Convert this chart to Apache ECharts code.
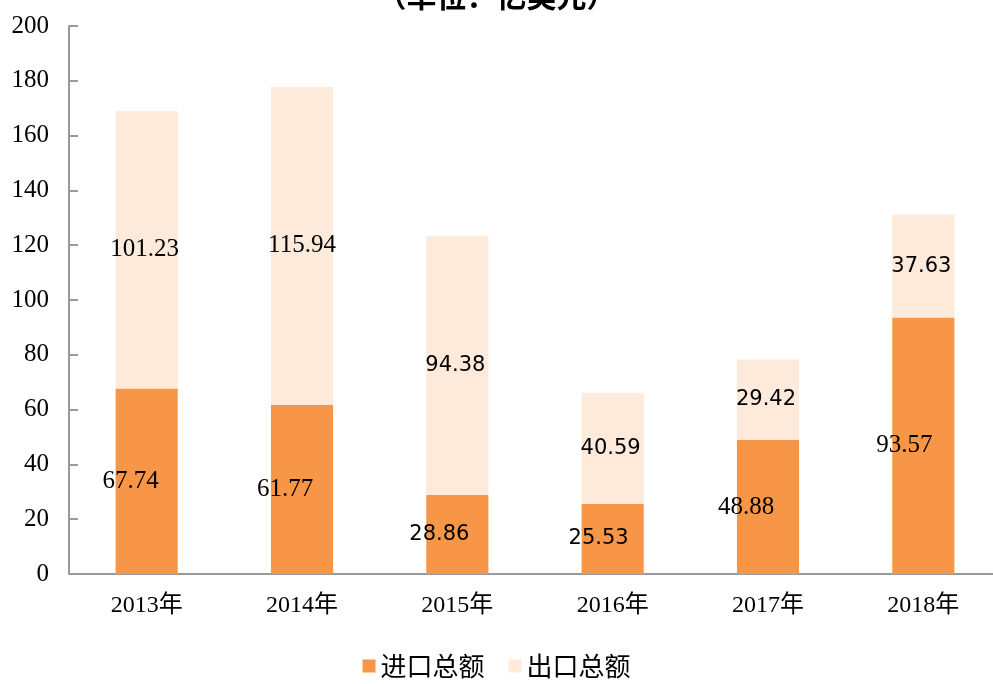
<!DOCTYPE html>
<html>
<head>
<meta charset="utf-8">
<script src="https://cdn.jsdelivr.net/npm/echarts@6/dist/echarts.min.js"></script>
<style>
html,body{margin:0;padding:0;background:#fff;}
#container{width:993px;height:684px;}
</style>
</head>
<body>
<div id="container"></div>
<script>
// 数据
var years = ['2013年', '2014年', '2015年', '2016年', '2017年', '2018年'];
var importVals = [67.74, 61.77, 28.86, 25.53, 48.88, 93.57];
var exportVals = [101.23, 115.94, 94.38, 40.59, 29.42, 37.63];
var yTicks = [0, 20, 40, 60, 80, 100, 120, 140, 160, 180, 200];

// 标签微调(原图标签手动摆放，略有偏移)
var importShift = [-16, -17, -18, -14, -22, -19];
var exportShift = [-2, 0, -2, -2, -2, -2];
var importSans = [false, false, true, true, false, false];
var exportSans = [false, false, true, true, true, true];

var serif = '"Liberation Serif", "Times New Roman", "Noto Sans CJK SC", serif';
var sans = '"DejaVu Sans", "Noto Sans CJK SC", sans-serif';

function buildData(vals, shift, sansFlags){
    return vals.map(function(v, i){
        return {
            value: v,
            label: {
                offset: [shift[i], 0],
                fontFamily: sansFlags[i] ? sans : serif,
                fontSize: sansFlags[i] ? 21 : 25
            }
        };
    });
}

var dom = document.getElementById('container');
var myChart = echarts.init(dom, null, {renderer: 'canvas'});

var option = {
    animation: false,
    title: {
        text: '（单位：亿美元）',
        left: 'center',
        top: -24,
        textStyle: {
            fontFamily: '"Noto Sans CJK SC", sans-serif',
            fontSize: 30,
            fontWeight: 'bold',
            color: '#000'
        }
    },
    grid: {
        left: 69,
        right: -8,
        top: 26,
        bottom: 110,
        containLabel: false,
        outerBoundsMode: 'none'
    },
    legend: {
        data: ['进口总额', '出口总额'],
        bottom: 0,
        left: 'center',
        itemWidth: 13,
        itemHeight: 13,
        itemGap: 24,
        icon: 'rect',
        textStyle: {
            fontFamily: '"Noto Sans CJK SC", sans-serif',
            fontSize: 26,
            color: '#000'
        }
    },
    xAxis: {
        type: 'category',
        data: years,
        axisLine: {lineStyle: {color: '#9a9a9a', width: 2}},
        axisTick: {inside: true, length: 10, lineStyle: {color: '#9a9a9a', width: 2}},
        axisLabel: {
            margin: 20,
            fontFamily: serif,
            fontSize: 24,
            color: '#000'
        }
    },
    yAxis: {
        type: 'value',
        min: yTicks[0],
        max: yTicks[yTicks.length - 1],
        interval: 20,
        axisLine: {show: true, lineStyle: {color: '#9a9a9a', width: 2}},
        axisTick: {show: true, inside: true, length: 9, lineStyle: {color: '#9a9a9a', width: 2}},
        splitLine: {show: false},
        axisLabel: {
            margin: 20,
            fontFamily: serif,
            fontSize: 25,
            color: '#000'
        }
    },
    series: [
        {
            name: '进口总额',
            type: 'bar',
            stack: 'total',
            barWidth: '40%',
            itemStyle: {color: '#F79646'},
            label: {show: true, position: 'inside', color: '#000'},
            data: buildData(importVals, importShift, importSans)
        },
        {
            name: '出口总额',
            type: 'bar',
            stack: 'total',
            barWidth: '40%',
            itemStyle: {color: '#FDEADA'},
            label: {show: true, position: 'inside', color: '#000'},
            data: buildData(exportVals, exportShift, exportSans)
        }
    ]
};

myChart.setOption(option);
window.addEventListener('resize', myChart.resize);
</script>
</body>
</html>
